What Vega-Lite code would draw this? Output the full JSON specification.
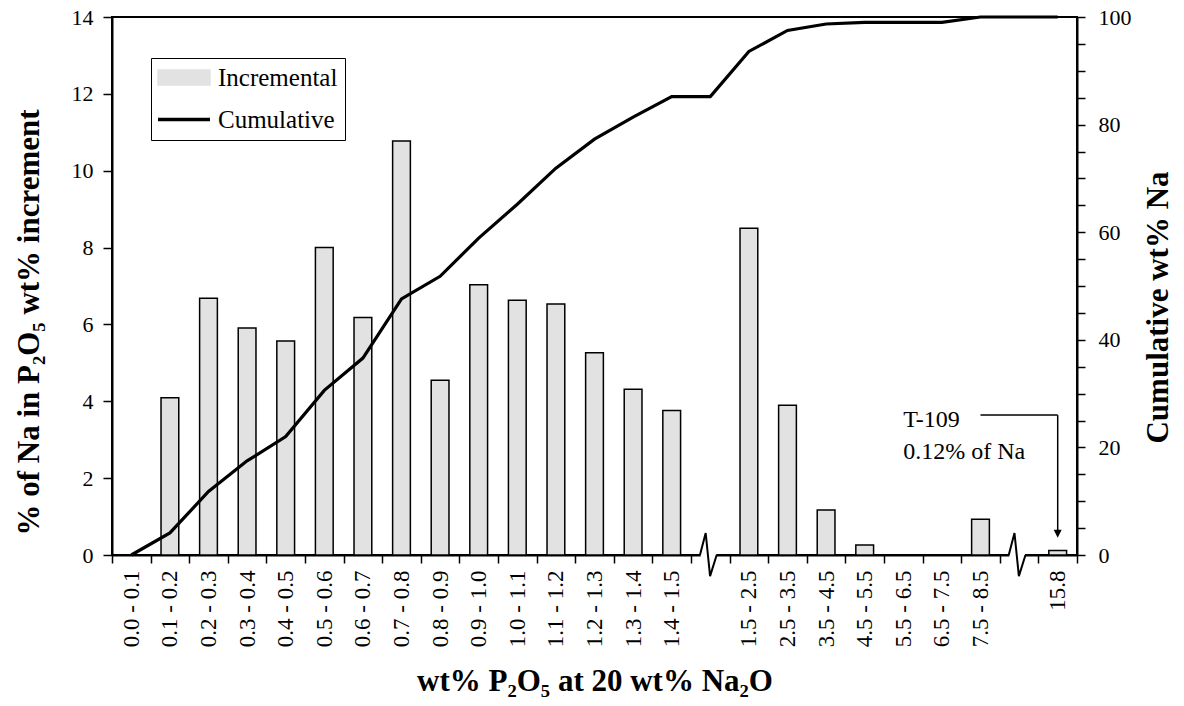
{
  "$schema": "https://vega.github.io/schema/vega-lite/v6.json",
  "width": 965,
  "height": 538,
  "autosize": {"type": "none"},
  "padding": {"left": 112, "top": 17, "right": 107, "bottom": 151},
  "background": "white",
  "config": {
    "font": "Liberation Serif",
    "view": {"stroke": "black", "strokeWidth": 2},
    "text": {"font": "Liberation Serif"},
    "legend": {"labelFont": "Liberation Serif", "labelFontSize": 25, "labelColor": "black"},
    "axis": {
      "labelFont": "Liberation Serif",
      "titleFont": "Liberation Serif",
      "labelColor": "black",
      "titleColor": "black",
      "domainColor": "black",
      "tickColor": "black",
      "labelFontSize": 22,
      "titleFontSize": 31,
      "titleFontWeight": "bold",
      "domainWidth": 2,
      "tickWidth": 1.5,
      "grid": false,
      "labelOverlap": false,
      "labelFlush": false
    }
  },
  "datasets": {
    "bins": [
      {"bin": "0.0 - 0.1", "incremental": 0, "cumulative": 0},
      {"bin": "0.1 - 0.2", "incremental": 4.09, "cumulative": 4.1},
      {"bin": "0.2 - 0.3", "incremental": 6.68, "cumulative": 11.8},
      {"bin": "0.3 - 0.4", "incremental": 5.91, "cumulative": 17.5},
      {"bin": "0.4 - 0.5", "incremental": 5.57, "cumulative": 22.0},
      {"bin": "0.5 - 0.6", "incremental": 8.0, "cumulative": 30.6},
      {"bin": "0.6 - 0.7", "incremental": 6.18, "cumulative": 36.6},
      {"bin": "0.7 - 0.8", "incremental": 10.77, "cumulative": 47.6},
      {"bin": "0.8 - 0.9", "incremental": 4.55, "cumulative": 51.8},
      {"bin": "0.9 - 1.0", "incremental": 7.03, "cumulative": 58.9},
      {"bin": "1.0 - 1.1", "incremental": 6.63, "cumulative": 65.2},
      {"bin": "1.1 - 1.2", "incremental": 6.53, "cumulative": 71.9},
      {"bin": "1.2 - 1.3", "incremental": 5.26, "cumulative": 77.3},
      {"bin": "1.3 - 1.4", "incremental": 4.31, "cumulative": 81.4},
      {"bin": "1.4 - 1.5", "incremental": 3.76, "cumulative": 85.2},
      {"bin": "gap1", "incremental": null, "cumulative": 85.2},
      {"bin": "1.5 - 2.5", "incremental": 8.5, "cumulative": 93.6},
      {"bin": "2.5 - 3.5", "incremental": 3.9, "cumulative": 97.5},
      {"bin": "3.5 - 4.5", "incremental": 1.17, "cumulative": 98.7},
      {"bin": "4.5 - 5.5", "incremental": 0.26, "cumulative": 99.0},
      {"bin": "5.5 - 6.5", "incremental": 0, "cumulative": 99.0},
      {"bin": "6.5 - 7.5", "incremental": 0, "cumulative": 99.0},
      {"bin": "7.5 - 8.5", "incremental": 0.93, "cumulative": 100},
      {"bin": "gap2", "incremental": null, "cumulative": 100},
      {"bin": "15.8", "incremental": 0.12, "cumulative": 100}
    ],
    "arrow": [
      {"from": "7.5 - 8.5", "to": "15.8", "top": 3.64, "bottom": 3.64},
      {"from": "15.8", "to": "15.8", "top": 3.64, "bottom": 0.6}
    ],
    "arrowHead": [
      {"at": "15.8", "level": 0.55}
    ],
    "note": [
      {"at": "5.5 - 6.5", "level": 3.34, "text": "T-109"},
      {"at": "5.5 - 6.5", "level": 2.5, "text": "0.12% of Na"}
    ]
  },
  "layer": [
    {
      "layer": [
        {
          "data": {"name": "bins"},
          "mark": {"type": "bar", "width": {"band": 0.46}, "stroke": "black", "strokeWidth": 1.5},
          "encoding": {
            "x": {
              "field": "bin",
              "type": "nominal",
              "sort": null,
              "scale": {
                "type": "band",
                "paddingInner": 0,
                "paddingOuter": 0,
                "domain": ["0.0 - 0.1", "0.1 - 0.2", "0.2 - 0.3", "0.3 - 0.4", "0.4 - 0.5", "0.5 - 0.6", "0.6 - 0.7", "0.7 - 0.8", "0.8 - 0.9", "0.9 - 1.0", "1.0 - 1.1", "1.1 - 1.2", "1.2 - 1.3", "1.3 - 1.4", "1.4 - 1.5", "gap1", "1.5 - 2.5", "2.5 - 3.5", "3.5 - 4.5", "4.5 - 5.5", "5.5 - 6.5", "6.5 - 7.5", "7.5 - 8.5", "gap2", "15.8"]
              },
              "axis": {
                "orient": "bottom",
                "title": "wt% P₂O₅ at 20 wt% Na₂O",
                "labelAngle": -90,
                "labelFontSize": 23,
                "tickBand": "extent",
                "tickSize": 8,
                "labelPadding": 7,
                "titlePadding": 20,
                "labelExpr": "isString(datum.value) && indexof(datum.value, 'gap') === 0 ? '' : datum.label",
                "encode": {"ticks": {"update": {"y": {"value": -8}}}}
              }
            },
            "y": {
              "field": "incremental",
              "type": "quantitative",
              "scale": {"domain": [0, 14], "nice": false},
              "axis": {
                "orient": "left",
                "title": "% of Na in P₂O₅ wt% increment",
                "titleY": 305,
                "values": [0, 1, 2, 3, 4, 5, 6, 7, 8, 9, 10, 11, 12, 13, 14],
                "labelExpr": "datum.value % 2 === 0 ? datum.label : ''",
                "tickSize": 9,
                "labelPadding": 10,
                "titlePadding": 26,
                "encode": {
                  "ticks": {
                    "update": {
                      "x": {"signal": "datum.value % 2 === 0 ? 8 : 0"},
                      "x2": {"signal": "datum.value % 2 === 0 ? -9 : -6"}
                    }
                  }
                }
              }
            },
            "color": {
              "datum": "Incremental",
              "scale": {"domain": ["Incremental", "Cumulative"], "range": ["#e2e2e2", "black"]},
              "legend": {
                "orient": "none",
                "legendX": 39,
                "legendY": 41,
                "title": null,
                "padding": 7,
                "strokeColor": "black",
                "fillColor": "white",
                "labelFont": "Liberation Serif",
                "labelFontSize": 25,
                "labelColor": "black",
                "labelOffset": 35,
                "labelLimit": 0,
                "rowPadding": 16,
                "symbolSize": 625,
                "symbolType": {"expr": "datum.value === 'Incremental' ? 'M-1,-0.6L3.16,-0.6L3.16,0.6L-1,0.6Z' : 'M-1,0L3.16,0'"},
                "symbolStrokeColor": "black",
                "symbolStrokeWidth": {"expr": "datum.value === 'Incremental' ? 1.5 : 3.5"},
                "symbolOpacity": 1
              }
            }
          }
        },
        {
          "data": {"name": "bins"},
          "transform": [{"filter": "indexof(datum.bin, 'gap') === 0"}],
          "mark": {"type": "point", "shape": "M-0.44,0L0.27,0", "size": 1936, "filled": false, "color": "white", "strokeWidth": 5, "opacity": 1},
          "encoding": {
            "x": {"field": "bin", "type": "nominal", "sort": null},
            "y": {"datum": 0, "type": "quantitative"}
          }
        },
        {
          "data": {"name": "bins"},
          "transform": [{"filter": "indexof(datum.bin, 'gap') === 0"}],
          "mark": {"type": "point", "shape": "M-0.47,0L-0.21,-1L-0.01,0.96L0.29,0", "size": 1936, "filled": false, "color": "black", "strokeWidth": 2, "opacity": 1},
          "encoding": {
            "x": {"field": "bin", "type": "nominal", "sort": null},
            "y": {"datum": 0, "type": "quantitative"}
          }
        },
        {
          "data": {"name": "arrow"},
          "mark": {"type": "rule", "color": "black", "strokeWidth": 1.5},
          "encoding": {
            "x": {"field": "from", "type": "nominal", "sort": null},
            "x2": {"field": "to"},
            "y": {"field": "top", "type": "quantitative"},
            "y2": {"field": "bottom"}
          }
        },
        {
          "data": {"name": "arrowHead"},
          "mark": {"type": "point", "shape": "M-1,-1L1,-1L0,1Z", "size": 64, "filled": true, "color": "black", "opacity": 1},
          "encoding": {
            "x": {"field": "at", "type": "nominal", "sort": null},
            "y": {"field": "level", "type": "quantitative"}
          }
        },
        {
          "data": {"name": "note"},
          "mark": {"type": "text", "align": "left", "baseline": "alphabetic", "font": "Liberation Serif", "fontSize": 24, "color": "black"},
          "encoding": {
            "x": {"field": "at", "type": "nominal", "sort": null},
            "y": {"field": "level", "type": "quantitative"},
            "text": {"field": "text"}
          }
        }
      ]
    },
    {
      "data": {"name": "bins"},
      "mark": {"type": "line", "strokeWidth": 3.2},
      "encoding": {
        "x": {"field": "bin", "type": "nominal", "sort": null},
        "y": {
          "field": "cumulative",
          "type": "quantitative",
          "scale": {"domain": [0, 100], "nice": false},
          "axis": {
            "orient": "right",
            "title": "Cumulative wt% Na",
            "titleAngle": 270,
            "titleBaseline": "top",
            "titleY": 290,
            "values": [0, 5, 10, 15, 20, 25, 30, 35, 40, 45, 50, 55, 60, 65, 70, 75, 80, 85, 90, 95, 100],
            "labelExpr": "datum.value % 20 === 0 ? datum.label : ''",
            "tickSize": 8,
            "labelPadding": 13,
            "titlePadding": 12,
            "encode": {
              "ticks": {
                "update": {
                  "x": {"signal": "datum.value % 20 === 0 ? -7 : 0"},
                  "x2": {"signal": "datum.value % 20 === 0 ? 8 : 6"}
                }
              }
            }
          }
        },
        "color": {"datum": "Cumulative"}
      }
    }
  ],
  "resolve": {"scale": {"y": "independent"}}
}
